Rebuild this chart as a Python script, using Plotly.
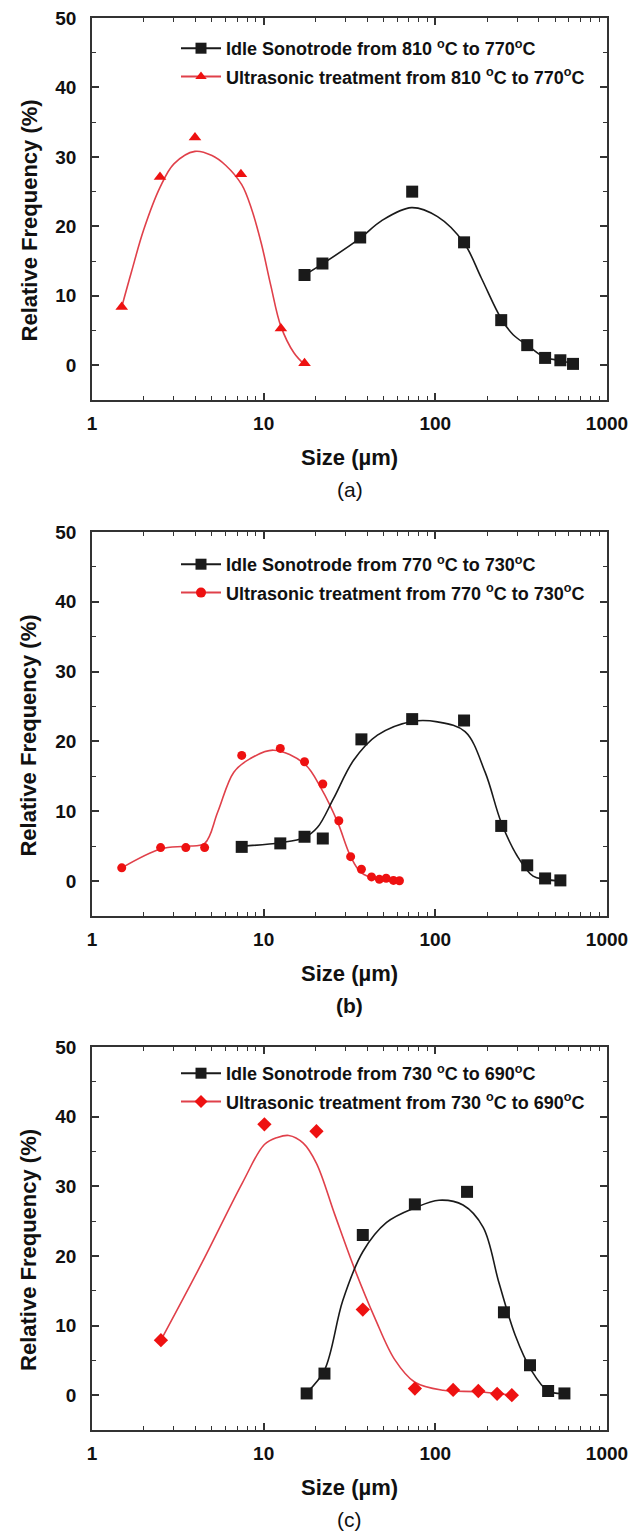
import plotly.graph_objects as go

# ---------------- data ----------------
# Panel (a)
a_idle_x = [17.3, 22.0, 36.5, 73.3, 147, 242, 343, 436, 535, 634]
a_idle_y = [13.0, 14.65, 18.4, 25.0, 17.7, 6.5, 2.9, 1.06, 0.72, 0.2]
a_idle_fit_x = [17.3, 22.0, 36.5, 48.5, 72.6, 103, 147, 185, 242, 284, 343, 436, 535, 634]
a_idle_fit_y = [13.0, 14.6, 18.3, 20.8, 22.7, 21.4, 17.6, 12.6, 6.7, 4.4, 2.9, 1.1, 0.7, 0.2]
a_us_x = [1.49, 2.49, 3.98, 7.37, 12.6, 17.3]
a_us_y = [8.4, 27.1, 32.8, 27.5, 5.3, 0.3]
a_us_fit_x = [1.49, 1.7, 2.0, 2.49, 3.0, 3.98, 5.0, 6.0, 7.45, 8.5, 9.7, 11.0, 12.6, 15.0, 17.3]
a_us_fit_y = [8.4, 13.5, 19.5, 25.6, 29.0, 30.8, 30.2, 28.8, 26.0, 22.5, 17.5, 11.5, 5.6, 1.8, 0.1]

# Panel (b)
b_idle_x = [7.45, 12.5, 17.3, 22.1, 37.1, 73.3, 147, 242, 343, 436, 535]
b_idle_y = [4.9, 5.4, 6.35, 6.1, 20.3, 23.2, 23.0, 7.9, 2.26, 0.38, 0.1]
b_idle_fit_x = [7.45, 12.5, 17.3, 20.6, 25.5, 33.4, 46, 74.5, 103, 149, 195, 242, 300, 371, 436, 535]
b_idle_fit_y = [5.0, 5.5, 6.25, 7.7, 11.8, 17.3, 20.9, 22.9, 22.8, 21.4, 15.6, 8.4, 3.6, 0.7, 0.25, 0.0]
b_us_x = [1.49, 2.51, 3.52, 4.53, 7.45, 12.5, 17.3, 22.1, 27.4, 32.1, 37.1, 42.5, 47.2, 51.7, 57.0, 61.8]
b_us_y = [1.9, 4.8, 4.8, 4.8, 18.0, 19.0, 17.1, 13.9, 8.65, 3.5, 1.7, 0.6, 0.25, 0.4, 0.1, 0.05]
b_us_fit_x = [1.49, 2.51, 3.52, 4.53, 5.4, 6.7, 8.3, 11.4, 17.3, 21.7, 27.0, 32.0, 37.0, 46.0, 61.8]
b_us_fit_y = [1.9, 4.6, 5.0, 5.4, 9.9, 15.6, 17.5, 18.75, 16.8, 13.2, 8.4, 3.6, 1.2, 0.25, 0.0]

# Panel (c)
c_idle_x = [17.8, 22.6, 37.8, 76, 153, 251, 356, 454, 565]
c_idle_y = [0.25, 3.1, 23.0, 27.4, 29.2, 11.9, 4.3, 0.6, 0.25]
c_idle_fit_x = [17.8, 22.6, 28.9, 37.8, 52, 76, 105, 145, 190, 235, 292, 362, 454, 565]
c_idle_fit_y = [0.35, 3.6, 13.6, 20.6, 24.8, 26.9, 28.0, 27.3, 24.1, 16.1, 8.6, 3.6, 0.6, 0.25]
c_us_x = [2.52, 10.1, 20.3, 37.8, 76, 127, 178, 229, 279]
c_us_y = [7.9, 38.9, 37.9, 12.3, 0.95, 0.75, 0.6, 0.2, 0.0]
c_us_fit_x = [2.52, 4.39, 7.52, 10.1, 12.0, 14.0, 17.0, 20.3, 25.9, 33.9, 44.4, 58, 76, 111, 178, 279]
c_us_fit_y = [7.9, 19.1, 30.5, 36.0, 37.0, 37.3, 36.2, 33.3, 26.0, 18.1, 11.1, 5.1, 1.85, 0.7, 0.5, 0.0]

idle_names = ["Idle Sonotrode from 810 <sup>o</sup>C to 770<sup>o</sup>C",
              "Idle Sonotrode from 770 <sup>o</sup>C to 730<sup>o</sup>C",
              "Idle Sonotrode from 730 <sup>o</sup>C to 690<sup>o</sup>C"]
us_names = ["Ultrasonic treatment from 810 <sup>o</sup>C to 770<sup>o</sup>C",
            "Ultrasonic treatment from 770 <sup>o</sup>C to 730<sup>o</sup>C",
            "Ultrasonic treatment from 730 <sup>o</sup>C to 690<sup>o</sup>C"]
us_symbols = ["triangle-up", "circle", "diamond"]
panel_tags = ["(a)", "<b>(b)</b>", "(c)"]
x_ticks = [1, 10, 100, 1000]
x_ticktext = ["1", "10", "100", "1000"]
y_ticks = [0, 10, 20, 30, 40, 50]

panels = [
    (a_idle_x, a_idle_y, a_idle_fit_x, a_idle_fit_y, a_us_x, a_us_y, a_us_fit_x, a_us_fit_y),
    (b_idle_x, b_idle_y, b_idle_fit_x, b_idle_fit_y, b_us_x, b_us_y, b_us_fit_x, b_us_fit_y),
    (c_idle_x, c_idle_y, c_idle_fit_x, c_idle_fit_y, c_us_x, c_us_y, c_us_fit_x, c_us_fit_y),
]

# ---------------- layout constants ----------------
W, H = 633, 1532
L, R = 92, 607
tops = [18, 532, 1047]
bottoms = [400, 916, 1430]
legend_tops = [30, 546, 1055]
legend_left = 176
T, B = tops[0], bottoms[-1]
ph = B - T
pw = R - L

BLACK = "#1a1a1a"
RED_M = "#ee1111"
RED_L = "#e0404a"
AX = "#333333"
FONT = "Liberation Sans, Arial, sans-serif"

fig = go.Figure()
minor_x = [m * 10 ** k for k in range(3) for m in range(2, 10)]

for i, (ix, iy, ifx, ify, ux, uy, ufx, ufy) in enumerate(panels):
    sfx = "" if i == 0 else str(i + 1)
    xa, ya = "x" + sfx, "y" + sfx
    lg = "legend" + sfx
    # fitted curves
    fig.add_trace(go.Scatter(x=ufx, y=ufy, mode="lines", xaxis=xa, yaxis=ya,
                             line=dict(color=RED_L, width=1.6, shape="spline", smoothing=1.0),
                             showlegend=False, hoverinfo="skip"))
    fig.add_trace(go.Scatter(x=ifx, y=ify, mode="lines", xaxis=xa, yaxis=ya,
                             line=dict(color=BLACK, width=1.6, shape="spline", smoothing=1.0),
                             showlegend=False, hoverinfo="skip"))
    # markers
    fig.add_trace(go.Scatter(x=ix, y=iy, mode="markers", xaxis=xa, yaxis=ya,
                             marker=dict(symbol="square", size=12, color=BLACK),
                             showlegend=False))
    fig.add_trace(go.Scatter(x=ux, y=uy, mode="markers", xaxis=xa, yaxis=ya,
                             marker=dict(symbol=us_symbols[i], size=11 if i != 1 else 9, color=RED_M),
                             showlegend=False))
    # legend entries
    fig.add_trace(go.Scatter(x=[None], y=[None], mode="lines+markers", xaxis=xa, yaxis=ya,
                             name="<b>" + idle_names[i] + "</b>", legend=lg, legendgroup="i" + str(i),
                             line=dict(color=BLACK, width=2),
                             marker=dict(symbol="square", size=11, color=BLACK)))
    fig.add_trace(go.Scatter(x=[None], y=[None], mode="lines+markers", xaxis=xa, yaxis=ya,
                             name="<b>" + us_names[i] + "</b>", legend=lg, legendgroup="u" + str(i),
                             line=dict(color=RED_L, width=2),
                             marker=dict(symbol=us_symbols[i], size=10, color=RED_M)))

    dom = [1 - (bottoms[i] - T) / ph, 1 - (tops[i] - T) / ph]
    xkey = "xaxis" + sfx
    ykey = "yaxis" + sfx
    fig.layout[xkey] = dict(
        type="log", range=[0, 3], domain=[0, 1], anchor=ya,
        tickvals=x_ticks, ticktext=x_ticktext, ticks="inside", ticklen=7, tickwidth=1.6,
        tickcolor=AX, showline=True, linecolor=AX, linewidth=1.6, mirror="ticks",
        showgrid=False, zeroline=False, ticklabelstandoff=5,
        minor=dict(tickvals=minor_x, ticks="inside", ticklen=4, tickwidth=1.3, tickcolor=AX, showgrid=False),
        tickfont=dict(family=FONT, size=19, color="#111", weight="bold"),
    )
    fig.layout[ykey] = dict(
        range=[-5, 50], domain=dom, anchor=xa,
        tickvals=y_ticks, ticks="inside", ticklen=7, tickwidth=1.6,
        tickcolor=AX, showline=True, linecolor=AX, linewidth=1.6, mirror="ticks",
        showgrid=False, zeroline=False, ticklabelstandoff=10,
        minor=dict(dtick=5, ticks="inside", ticklen=4, tickwidth=1.3, tickcolor=AX, showgrid=False),
        tickfont=dict(family=FONT, size=19, color="#111", weight="bold"),
    )
    fig.layout[lg] = dict(
        x=(legend_left - L) / pw, xref="paper", xanchor="left",
        y=1 - (legend_tops[i] - T) / ph, yref="paper", yanchor="top",
        bgcolor="rgba(0,0,0,0)", borderwidth=0, itemwidth=40, tracegroupgap=2,
        font=dict(family=FONT, size=18, color="#111"),
    )
    # axis titles and panel tags
    fig.add_annotation(text="<b>Relative Frequency (%)</b>", textangle=-90, showarrow=False,
                       xref=xa + " domain", yref=ya + " domain", x=0, y=0.47, xshift=-63,
                       xanchor="center", yanchor="middle",
                       font=dict(family=FONT, size=22, color="#111"))
    fig.add_annotation(text="<b>Size (µm)</b>", showarrow=False,
                       xref=xa + " domain", yref=ya + " domain", x=0.5, y=0, yshift=-57,
                       xanchor="center", yanchor="middle",
                       font=dict(family=FONT, size=22, color="#111"))
    fig.add_annotation(text=panel_tags[i], showarrow=False,
                       xref=xa + " domain", yref=ya + " domain", x=0.5, y=0, yshift=-89,
                       xanchor="center", yanchor="middle",
                       font=dict(family=FONT, size=21, color="#111"))

fig.update_layout(
    width=W, height=H, autosize=False,
    margin=dict(l=L, r=W - R, t=T, b=H - B, autoexpand=False),
    paper_bgcolor="white", plot_bgcolor="white",
    font=dict(family=FONT),
)

fig.write_html("out.html")
